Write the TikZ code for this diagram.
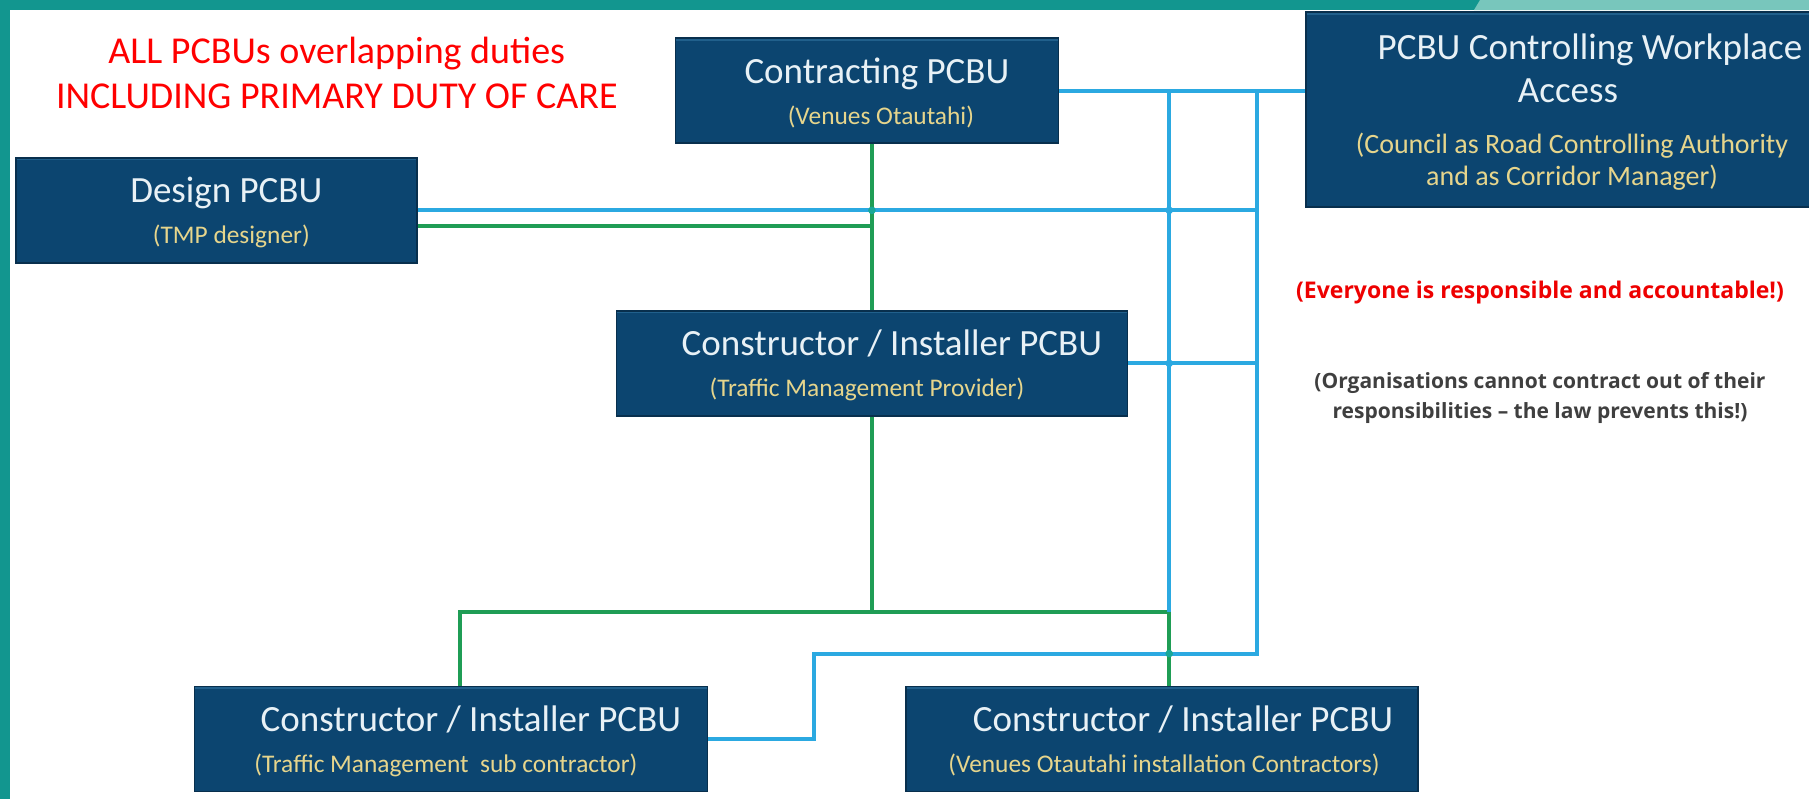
\documentclass[tikz,border=0pt]{standalone}
\usepackage{fontspec}
\setmainfont{Carlito}
\newfontfamily\notefont{Open Sans}
\usetikzlibrary{positioning,calc}
\definecolor{framecol}{HTML}{12968F}
\definecolor{framelight}{HTML}{78C6BC}
\definecolor{boxfill}{HTML}{0C4570}
\definecolor{boxedge}{HTML}{082F4D}
\definecolor{boxlight}{HTML}{21608C}
\definecolor{titlecol}{HTML}{E8F1F6}
\definecolor{subcol}{HTML}{E6D58C}
\definecolor{linkblue}{HTML}{2BA9E1}
\definecolor{linkgreen}{HTML}{1F9D55}
\definecolor{dotteal}{HTML}{1AA898}
\definecolor{notered}{HTML}{EE0000}
\definecolor{notegray}{HTML}{3F3F3F}
\newcommand{\subline}[1]{{\color{subcol}\fontsize{12.7}{15}\selectfont #1}}
% #1/#3 nudge the title/subtitle line sideways
\newcommand{\pcbutext}[4]{\raisebox{0pt}[15pt][0pt]{\hspace*{#1}#2}\\\raisebox{0pt}[0pt][2pt]{\subline{\hspace*{#3}#4}}}
\tikzset{
  pcbu/.style={draw=boxedge, line width=0.8pt, fill=boxfill, minimum height=52.5pt, inner sep=0pt, align=center, text=titlecol, font=\fontsize{18.5}{20.5}\selectfont,
    path picture={\draw[boxlight, line width=2.4pt] (path picture bounding box.north west) -- (path picture bounding box.north east);}},
  bline/.style={draw=linkblue, line width=2pt},
  gline/.style={draw=linkgreen, line width=2pt},
  jdot/.style={circle, fill=#1, inner sep=0pt, minimum size=3.8pt},
  headtxt/.style={text=red, align=center, font=\fontsize{19}{22.5}\selectfont, inner sep=0pt},
  notetxt/.style={align=center, inner sep=0pt, font=\notefont\bfseries\fontsize{#1}{15}\selectfont},
}
\begin{document}
\begin{tikzpicture}
\useasboundingbox (0,0) rectangle (904.5pt,-399.5pt);
\fill[white] (0,0) rectangle (904.5pt,-399.5pt);
\fill[framecol] (0,0) rectangle (904.5pt,-5pt);
\fill[framelight] (740pt,0) -- (904.5pt,0) -- (904.5pt,-5pt) -- (737pt,-5pt) -- cycle;
\fill[framecol] (0,0) rectangle (5pt,-399.5pt);

\node[pcbu, minimum width=200.5pt, anchor=north west] (design) at (7.5pt,-78.5pt) {\pcbutext{10pt}{Design PCBU}{15pt}{(TMP designer)}};
\node[pcbu, minimum width=191.5pt, above right=6.5pt and 128.5pt of design.north east] (con) {\pcbutext{10pt}{Contracting PCBU}{14pt}{(Venues Otautahi)}};
\node[pcbu, minimum width=255.5pt, below=83pt of con, xshift=2.5pt] (tmp) {\pcbutext{20pt}{Constructor / Installer PCBU}{-5pt}{(Traffic Management Provider)}};
\node[pcbu, minimum width=256.5pt, below=134.5pt of tmp, xshift=-210.5pt] (sub) {\pcbutext{20pt}{Constructor / Installer PCBU}{-5pt}{(Traffic Management\ \ sub contractor)}};
\node[pcbu, minimum width=256pt, right=98.5pt of sub] (inst) {\pcbutext{21pt}{Constructor / Installer PCBU}{2pt}{(Venues Otautahi installation Contractors)}};
\node[pcbu, minimum width=266pt, minimum height=97.5pt, right=123pt of con.north east, anchor=north west, yshift=13pt] (ctrl)
  {\raisebox{0pt}[15.5pt][0pt]{\hspace*{18pt}PCBU Controlling Workplace}\\[1pt]\hspace*{-4pt}Access\\[5pt]
   {\color{subcol}\fontsize{14}{16}\selectfont(Council as Road Controlling Authority}\\[-4.5pt]
   \raisebox{0pt}[0pt][3pt]{\color{subcol}\fontsize{14}{16}\selectfont and as Corridor Manager)}};

\node[headtxt, above=24.5pt of design.north, xshift=60.25pt, anchor=base] (duty) {ALL PCBUs overlapping duties\\INCLUDING PRIMARY DUTY OF CARE};
\node[notetxt=11.5, text=notered, below=45pt of ctrl.south, xshift=-16pt, anchor=base] (resp) {(Everyone is responsible and accountable!)};
\node[notetxt=10.5, text=notegray, below=60pt of resp.base, anchor=base] (law) {(Organisations cannot contract out of their\\responsibilities – the law prevents this!)};

\coordinate[right=55pt of con.east] (lbus);
\coordinate[right=99pt of con.east] (rbus);
\coordinate[below=97.5pt of tmp.south] (gbus);
\coordinate[below=21pt of gbus] (bbus);

\draw[bline] (con.east) -- (ctrl.west |- con.east);
\draw[bline] (design.east) -- (design.east -| rbus);
\draw[gline] ([yshift=-8pt]design.east) -- ([yshift=-8pt]design.east -| tmp.north);
\draw[gline] (con.south -| tmp.north) -- (tmp.north);
\draw[gline] (tmp.south) -- (gbus);
\draw[gline] ([xshift=4.75pt]sub.north) |- (gbus -| lbus) -- (inst.north -| lbus);
\draw[bline] (lbus) -- (lbus |- gbus);
\draw[bline] (tmp.east) -- (tmp.east -| rbus);
\draw[bline] (sub.east) -- ++(53pt,0) |- (bbus -| rbus) -- (rbus);

\node[jdot=dotteal] (j1) at (design.east -| tmp.north) {};
\node[jdot=linkblue] (j2) at (design.east -| lbus) {};
\node[jdot=linkblue] (j3) at (tmp.east -| lbus) {};
\node[jdot=dotteal] (j4) at (bbus -| lbus) {};
\end{tikzpicture}
\end{document}
